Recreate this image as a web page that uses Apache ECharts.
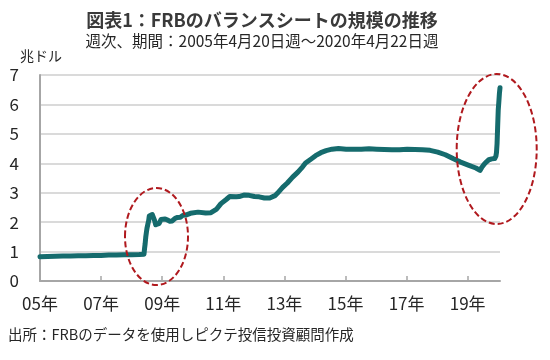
<!DOCTYPE html>
<html><head><meta charset="utf-8">
<script src="https://cdn.jsdelivr.net/npm/echarts@6/dist/echarts.min.js"></script>
<style>html,body{margin:0;padding:0;background:#fff}#c{width:550px;height:360px}</style>
</head><body><div id="c"></div>
<script>
// Weekly observation dates (sampled) and FRB balance sheet size (trillion USD)
const weeks = [
 '2005-04-20','2005-07-20','2005-10-19','2006-01-18','2006-04-19','2006-07-19','2006-10-18','2007-01-17',
 '2007-04-18','2007-07-18','2007-10-17','2008-01-16','2008-04-16','2008-07-16','2008-09-10','2008-09-17',
 '2008-09-24','2008-10-01','2008-10-08','2008-10-15','2008-10-22','2008-10-29','2008-11-05','2008-11-12',
 '2008-11-26','2008-12-17','2008-12-31','2009-01-14','2009-01-28','2009-02-18','2009-03-11','2009-04-01',
 '2009-04-22','2009-05-20','2009-06-17','2009-07-15','2009-08-12','2009-09-16','2009-10-14','2009-11-18',
 '2009-12-16','2010-01-20','2010-03-17','2010-06-16','2010-09-15','2010-11-17','2011-01-19','2011-03-16',
 '2011-05-18','2011-06-29','2011-09-14','2011-10-19','2011-12-14','2012-02-15','2012-04-18','2012-06-13',
 '2012-08-15','2012-10-17','2012-12-19','2013-01-16','2013-03-20','2013-05-15','2013-07-17','2013-09-18',
 '2013-11-13','2013-12-18','2014-02-19','2014-04-16','2014-06-18','2014-08-20','2014-10-29','2015-01-14',
 '2015-04-15','2015-07-15','2015-10-14','2016-01-13','2016-04-13','2016-07-13','2016-10-12','2017-01-11',
 '2017-04-12','2017-07-12','2017-10-11','2018-01-10','2018-04-11','2018-07-11','2018-10-10','2019-01-09',
 '2019-04-10','2019-07-10','2019-08-28','2019-09-18','2019-10-16','2019-11-13','2019-12-11','2020-01-15',
 '2020-02-19','2020-03-04','2020-03-11','2020-03-18','2020-03-25','2020-04-01','2020-04-08','2020-04-15',
 '2020-04-22'
];
const balance = [
 0.82,0.83,0.84,0.85,0.85,0.86,0.86,0.87,
 0.87,0.88,0.88,0.89,0.89,0.90,0.91,1.11,
 1.27,1.49,1.64,1.78,1.80,1.97,2.05,2.21,
 2.19,2.26,2.24,2.06,1.91,1.88,1.96,2.09,
 2.13,2.11,2.07,2.03,2.04,2.13,2.16,2.17,
 2.23,2.24,2.30,2.34,2.31,2.32,2.43,2.63,
 2.77,2.87,2.86,2.87,2.92,2.91,2.87,2.86,
 2.82,2.82,2.90,2.98,3.18,3.33,3.53,3.70,
 3.88,4.01,4.14,4.26,4.36,4.43,4.48,4.50,
 4.48,4.48,4.48,4.49,4.48,4.47,4.46,4.46,
 4.48,4.47,4.46,4.44,4.38,4.29,4.16,4.04,
 3.94,3.84,3.76,3.86,3.97,4.05,4.12,4.15,
 4.16,4.24,4.36,4.67,5.25,5.81,6.08,6.37,
 6.57
];
const xTickDates = ['2005-04-20','2007-04-18','2009-04-15','2011-04-13','2013-04-10','2015-04-08','2017-04-05','2019-04-03'];
const xTickLabels = ['05年','07年','09年','11年','13年','15年','17年','19年'];
const yMin = 0, yMax = 7, yStep = 1;

const titleText = '図表1：FRBのバランスシートの規模の推移';
const subText = '週次、期間：2005年4月20日週～2020年4月22日週';
const unitText = '兆ドル';
const sourceText = '出所：FRBのデータを使用しピクテ投信投資顧問作成';

const FONT = '"Noto Sans CJK JP","Noto Sans",sans-serif';
const TXT = '#262626';
const ts = s => Date.parse(s + 'T00:00:00Z');
const tickTs = xTickDates.map(ts);

const chart = echarts.init(document.getElementById('c'), null, {renderer: 'canvas'});
chart.setOption({
  animation: false,
  backgroundColor: '#fff',
  textStyle: {fontFamily: FONT},
  grid: {left: 40, right: 50, top: 75, bottom: 79, containLabel: false},
  xAxis: {
    type: 'value',
    min: ts(weeks[0]), max: ts(weeks[weeks.length - 1]),
    axisLine: {lineStyle: {color: '#a6a6a6', width: 2}},
    axisTick: {show: true, inside: true, length: 5, lineStyle: {color: '#a6a6a6', width: 1.5}, customValues: tickTs},
    axisLabel: {
      customValues: tickTs,
      color: TXT, fontSize: 17, fontFamily: FONT, margin: 14, hideOverlap: false,
      formatter: function (v) {
        const i = tickTs.indexOf(v);
        return i >= 0 ? xTickLabels[i] : '';
      }
    },
    splitLine: {show: false}
  },
  yAxis: {
    type: 'value', min: yMin, max: yMax, interval: yStep,
    axisLine: {show: true, lineStyle: {color: '#a6a6a6', width: 2}},
    axisTick: {show: false},
    axisLabel: {color: TXT, fontSize: 17, fontFamily: FONT, margin: 21},
    splitLine: {lineStyle: {color: '#dadada', width: 2}}
  },
  series: [{
    type: 'line',
    data: weeks.map((d, i) => [ts(d), balance[i]]),
    showSymbol: false,
    lineStyle: {color: '#156b6d', width: 5, join: 'round', cap: 'round'},
    z: 3
  }],
  graphic: [
    {type: 'text', style: {text: titleText, x: 262, y: 20, font: 'bold 18px ' + FONT, fill: '#3a3a3a', textAlign: 'center', textVerticalAlign: 'middle'}},
    {type: 'text', style: {text: subText, x: 262, y: 41.5, font: '15.5px ' + FONT, fill: TXT, textAlign: 'center', textVerticalAlign: 'middle'}},
    {type: 'text', style: {text: unitText, x: 20, y: 55.5, font: '14px ' + FONT, fill: TXT, textAlign: 'left', textVerticalAlign: 'middle'}},
    {type: 'text', style: {text: sourceText, x: 8, y: 334, font: '14.5px ' + FONT, fill: TXT, textAlign: 'left', textVerticalAlign: 'middle'}},
    {type: 'ellipse', shape: {cx: 156.5, cy: 236.5, rx: 31.5, ry: 48.5}, style: {fill: 'none', stroke: '#b0191e', lineWidth: 2, lineDash: [6, 3]}, z: 100},
    {type: 'ellipse', shape: {cx: 496.7, cy: 149, rx: 40, ry: 75}, style: {fill: 'none', stroke: '#b0191e', lineWidth: 2, lineDash: [6, 3]}, z: 100}
  ]
});
</script>
</body></html>
